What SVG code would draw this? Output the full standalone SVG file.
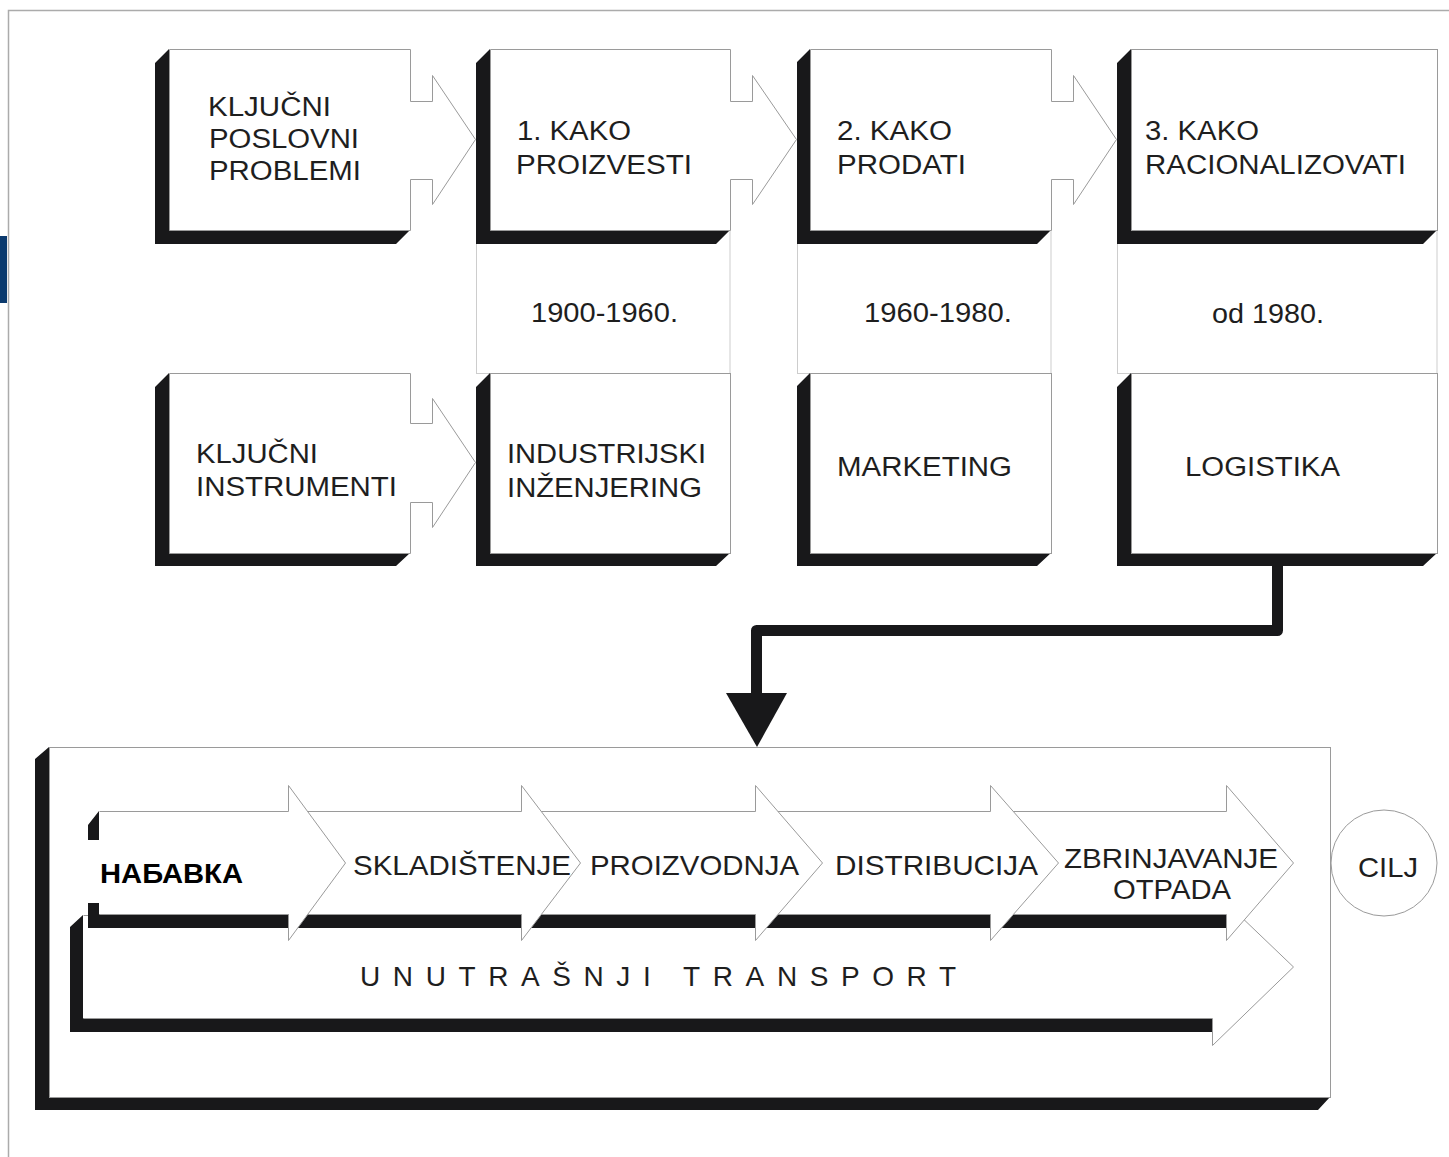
<svg xmlns="http://www.w3.org/2000/svg" width="1449" height="1157" viewBox="0 0 1449 1157">
<style>
.face{fill:#fff;stroke:#9a9a9a;stroke-width:1}
.shadow{fill:#18181a}
.period{fill:none;stroke:#cdcdcd;stroke-width:1}
.t{font-family:"Liberation Sans",Arial,sans-serif;font-size:27px;fill:#1e1e1e}
.tb{font-family:"Liberation Sans",Arial,sans-serif;font-size:28px;fill:#1e1e1e}
.bold{font-family:"Liberation Sans",Arial,sans-serif;font-size:28px;font-weight:bold;fill:#000}
.conn{fill:none;stroke:#18181a;stroke-width:11;stroke-linejoin:round}
</style>
<rect x="0" y="0" width="1449" height="1157" fill="#fff"/>
<path d="M8.5,1157 V10.5 H1449" fill="none" stroke="#ababab" stroke-width="1.5"/>
<rect x="0" y="236" width="7" height="67" fill="#0b3a6e"/>

<g id="period-1900-1960">
<rect class="period" x="476.5" y="230.5" width="253.5" height="143"/>
<text class="t" x="531" y="322" textLength="147" lengthAdjust="spacingAndGlyphs">1900-1960.</text>
</g>
<g id="period-1960-1980">
<rect class="period" x="797.5" y="230.5" width="253.5" height="143"/>
<text class="t" x="864" y="322" textLength="148" lengthAdjust="spacingAndGlyphs">1960-1980.</text>
</g>
<g id="period-od-1980">
<rect class="period" x="1117.5" y="230.5" width="319.5" height="143"/>
<text class="t" x="1212" y="323" textLength="112" lengthAdjust="spacingAndGlyphs">od 1980.</text>
</g>

<g id="kljucni-poslovni-problemi">
<polygon class="shadow" points="155,63 169,49 169,230 410,230 396,244 155,244"/>
<path class="face" d="M169.5,49.5 H410.5 V101.5 H432.5 V75.5 L475.5,139.5 L432.5,204.5 V179.5 H410.5 V230.5 H169.5 Z"/>
<text class="t" x="208" y="116" textLength="123" lengthAdjust="spacingAndGlyphs">KLJUČNI</text>
<text class="t" x="209" y="148" textLength="150" lengthAdjust="spacingAndGlyphs">POSLOVNI</text>
<text class="t" x="209" y="180" textLength="152" lengthAdjust="spacingAndGlyphs">PROBLEMI</text>
</g>
<g id="kako-proizvesti">
<polygon class="shadow" points="476,63 490,49 490,230 730,230 716,244 476,244"/>
<path class="face" d="M490.5,49.5 H730.5 V101.5 H752.5 V75.5 L796.5,139.5 L752.5,204.5 V179.5 H730.5 V230.5 H490.5 Z"/>
<text class="t" x="517" y="140" textLength="114" lengthAdjust="spacingAndGlyphs">1. KAKO</text>
<text class="t" x="516" y="174" textLength="176" lengthAdjust="spacingAndGlyphs">PROIZVESTI</text>
</g>
<g id="kako-prodati">
<polygon class="shadow" points="797,62 810,49 810,230 1051,230 1037,244 797,244"/>
<path class="face" d="M810.5,49.5 H1051.5 V101.5 H1073.5 V75.5 L1116.5,139.5 L1073.5,204.5 V179.5 H1051.5 V230.5 H810.5 Z"/>
<text class="t" x="837" y="140" textLength="115" lengthAdjust="spacingAndGlyphs">2. KAKO</text>
<text class="t" x="837" y="174" textLength="129" lengthAdjust="spacingAndGlyphs">PRODATI</text>
</g>
<g id="kako-racionalizovati">
<polygon class="shadow" points="1117,63 1131,49 1131,230 1437,230 1423,244 1117,244"/>
<rect class="face" x="1131.5" y="49.5" width="306" height="181"/>
<text class="t" x="1145" y="140" textLength="114" lengthAdjust="spacingAndGlyphs">3. KAKO</text>
<text class="t" x="1145" y="174" textLength="261" lengthAdjust="spacingAndGlyphs">RACIONALIZOVATI</text>
</g>

<g id="kljucni-instrumenti">
<polygon class="shadow" points="155,387 169,373 169,553 410,553 396,566 155,566"/>
<path class="face" d="M169.5,373.5 H410.5 V423.5 H432.5 V398.5 L475.5,462.5 L432.5,527.5 V502.5 H410.5 V553.5 H169.5 Z"/>
<text class="t" x="196" y="463" textLength="122" lengthAdjust="spacingAndGlyphs">KLJUČNI</text>
<text class="t" x="196" y="496" textLength="201" lengthAdjust="spacingAndGlyphs">INSTRUMENTI</text>
</g>
<g id="industrijski-inzenjering">
<polygon class="shadow" points="476,387 490,373 490,553 730,553 716,566 476,566"/>
<rect class="face" x="490.5" y="373.5" width="240" height="180"/>
<text class="t" x="507" y="463" textLength="199" lengthAdjust="spacingAndGlyphs">INDUSTRIJSKI</text>
<text class="t" x="507" y="497" textLength="195" lengthAdjust="spacingAndGlyphs">INŽENJERING</text>
</g>
<g id="marketing">
<polygon class="shadow" points="797,386 810,373 810,553 1051,553 1037,566 797,566"/>
<rect class="face" x="810.5" y="373.5" width="241" height="180"/>
<text class="t" x="837" y="476" textLength="175" lengthAdjust="spacingAndGlyphs">MARKETING</text>
</g>
<g id="logistika">
<polygon class="shadow" points="1117,387 1131,373 1131,553 1437,553 1423,566 1117,566"/>
<rect class="face" x="1131.5" y="373.5" width="306" height="180"/>
<text class="t" x="1185" y="476" textLength="155" lengthAdjust="spacingAndGlyphs">LOGISTIKA</text>
</g>

<g id="lanac-okvir">
<polygon class="shadow" points="35,759 49,747 49,1097 1330,1097 1318,1110 35,1110"/>
<rect class="face" x="49.5" y="747.5" width="1281" height="350"/>
</g>

<g id="unutrasnji-transport">
<polygon class="shadow" points="70,927 83,915 83,1018 1212,1018 1212,1032 70,1032"/>
<path class="face" d="M83.5,915.5 H1212.5 V889.5 L1293.5,967 L1212.5,1045.5 V1018.5 H83.5"/>
<text class="tb" x="360" y="986" textLength="596">UNUTRAŠNJI TRANSPORT</text>
</g>

<g id="tok-senka">
<path class="shadow" d="M88,825 L99,811 V840 H88 Z M88,903 H99 V914 H1226 V928 H88 Z"/>
</g>
<g id="zbrinjavanje-otpada">
<path class="face" d="M990.5,811.5 H1226.5 V785.5 L1293.5,863 L1226.5,940.5 V914.5 H990.5"/>
<text class="tb" x="1064" y="868" textLength="214" lengthAdjust="spacingAndGlyphs">ZBRINJAVANJE</text>
<text class="tb" x="1113" y="899" textLength="118" lengthAdjust="spacingAndGlyphs">OTPADA</text>
</g>
<g id="distribucija">
<path class="face" d="M755.5,811.5 H990.5 V785.5 L1058.5,863 L990.5,940.5 V914.5 H755.5"/>
<text class="tb" x="835" y="875" textLength="203" lengthAdjust="spacingAndGlyphs">DISTRIBUCIJA</text>
</g>
<g id="proizvodnja">
<path class="face" d="M521.5,811.5 H755.5 V785.5 L822.5,863 L755.5,940.5 V914.5 H521.5"/>
<text class="tb" x="590" y="875" textLength="209" lengthAdjust="spacingAndGlyphs">PROIZVODNJA</text>
</g>
<g id="skladistenje">
<path class="face" d="M290.5,811.5 H521.5 V785.5 L580.5,863 L521.5,940.5 V914.5 H290.5"/>
<text class="tb" x="353" y="875" textLength="218" lengthAdjust="spacingAndGlyphs">SKLADIŠTENJE</text>
</g>
<g id="nabavka">
<path class="face" d="M99.5,811.5 H288.5 V785.5 L345.5,863 L288.5,940.5 V914.5 H99.5"/>
<text class="bold" x="100" y="883" textLength="143" lengthAdjust="spacingAndGlyphs">НАБАВКА</text>
</g>

<g id="cilj">
<circle class="face" cx="1384" cy="863" r="53"/>
<text class="tb" x="1358" y="877" textLength="60" lengthAdjust="spacingAndGlyphs">CILJ</text>
</g>

<g id="connectors">
<path class="conn" d="M1277.5,566 V630.5 H756.5 V695"/>
<polygon fill="#18181a" points="726,693 787,693 757,747"/>
</g>
</svg>
